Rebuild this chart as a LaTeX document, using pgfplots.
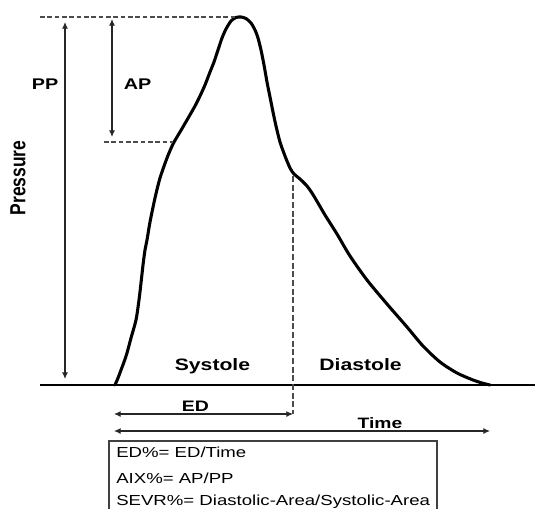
\documentclass[border=0pt]{standalone}
\usepackage{pgfplots}
\pgfplotsset{compat=1.18}
\usepackage{fontspec}
\setmainfont{Liberation Sans}
\usetikzlibrary{arrows.meta}
\newcommand{\sx}[1]{\scalebox{1.28}[1]{#1}}
\begin{document}
\begin{tikzpicture}
\begin{axis}[
  width=401.25pt, height=381pt, scale only axis,
  xmin=0, xmax=535, ymin=0, ymax=508, y dir=reverse,
  hide axis, clip=true,
]
% pressure waveform
\addplot[black, line width=2.3pt, smooth, tension=0.45, line join=round, line cap=round] coordinates {
(115,385) (118,378) (121,370) (124,362) (127,353) (131,338) (136,320) (139,300)
(141,283) (143,265) (145,250) (147,240) (150,222) (155,198) (160,178) (167,158)
(173,144) (180,132) (187,120) (195,106) (200,96) (205,85) (210,72) (214,62)
(218,50) (222,38) (226,29) (231,21) (236,17.5) (241,17) (246,18.5) (251,23)
(255,30) (258,38) (261,50) (264,65) (267,82) (270,97) (273,112) (276,126)
(280,142) (285,156) (290,168) (294,174) (300,179) (307,186) (312,193) (318,203)
(325,215) (337,234) (350,256) (367,280) (387,304) (407,327) (423,346) (440,362)
(457,373) (473,380) (482,383) (490,385)
};
% baseline
\addplot[black, line width=2pt] coordinates {(40,385) (535,385)};
% dashed guide lines
\addplot[black!70, line width=0.8pt, dash pattern=on 3.5pt off 2pt] coordinates {(40,17) (237,17)};
\addplot[black!70, line width=0.8pt, dash pattern=on 3.5pt off 2pt] coordinates {(104,142) (173,142)};
\addplot[black!70, line width=0.8pt, dash pattern=on 4.5pt off 2pt] coordinates {(293,176) (293,414)};
% arrows
\addplot[black!85, line width=0.8pt, {Latex[length=5pt,width=4.5pt]}-{Latex[length=5pt,width=4.5pt]}] coordinates {(65,22) (65,379)};
\addplot[black!85, line width=0.8pt, {Latex[length=5pt,width=4.5pt]}-{Latex[length=5pt,width=4.5pt]}] coordinates {(112,19) (112,137)};
\addplot[black!85, line width=0.8pt, {Latex[length=5pt,width=4.5pt]}-{Latex[length=5pt,width=4.5pt]}] coordinates {(114,414) (293,414)};
\addplot[black!85, line width=0.8pt, {Latex[length=5pt,width=4.5pt]}-{Latex[length=5pt,width=4.5pt]}] coordinates {(114,431) (490,431)};
% formula box
\addplot[black!75, line width=0.9pt] coordinates {(109,530) (109,441) (437,441) (437,530)};
% labels
\node[anchor=base, font=\bfseries\fontsize{11.6}{13}\selectfont] at (axis cs:45,89) {\sx{PP}};
\node[anchor=base, font=\bfseries\fontsize{11.6}{13}\selectfont] at (axis cs:137.5,89) {\sx{AP}};
\node[anchor=base, rotate=90, font=\bfseries\fontsize{13.1}{15}\selectfont] at (axis cs:25.5,178) {\scalebox{1}[1.25]{Pressure}};
\node[anchor=base, font=\bfseries\fontsize{12.4}{14}\selectfont] at (axis cs:212.5,370) {\sx{Systole}};
\node[anchor=base, font=\bfseries\fontsize{12.4}{14}\selectfont] at (axis cs:360.5,370) {\sx{Diastole}};
\node[anchor=base, font=\bfseries\fontsize{11.4}{13}\selectfont] at (axis cs:195.5,411) {\sx{ED}};
\node[anchor=base, font=\bfseries\fontsize{11.3}{13}\selectfont] at (axis cs:380,428) {\sx{Time}};
\node[anchor=base west, inner xsep=0pt, inner ysep=0pt, font=\fontsize{10.9}{13}\selectfont] at (axis cs:116,457) {\sx{ED\%= ED/Time}};
\node[anchor=base west, inner xsep=0pt, inner ysep=0pt, font=\fontsize{10.9}{13}\selectfont] at (axis cs:116,483) {\sx{AIX\%= AP/PP}};
\node[anchor=base west, inner xsep=0pt, inner ysep=0pt, font=\fontsize{10.9}{13}\selectfont] at (axis cs:116,505.5) {\sx{SEVR\%= Diastolic-Area/Systolic-Area}};
\coordinate (BBa) at (axis cs:0,508);
\coordinate (BBb) at (axis cs:535,0);
\end{axis}
\pgfresetboundingbox
\useasboundingbox (BBa) rectangle (BBb);
\end{tikzpicture}
\end{document}
